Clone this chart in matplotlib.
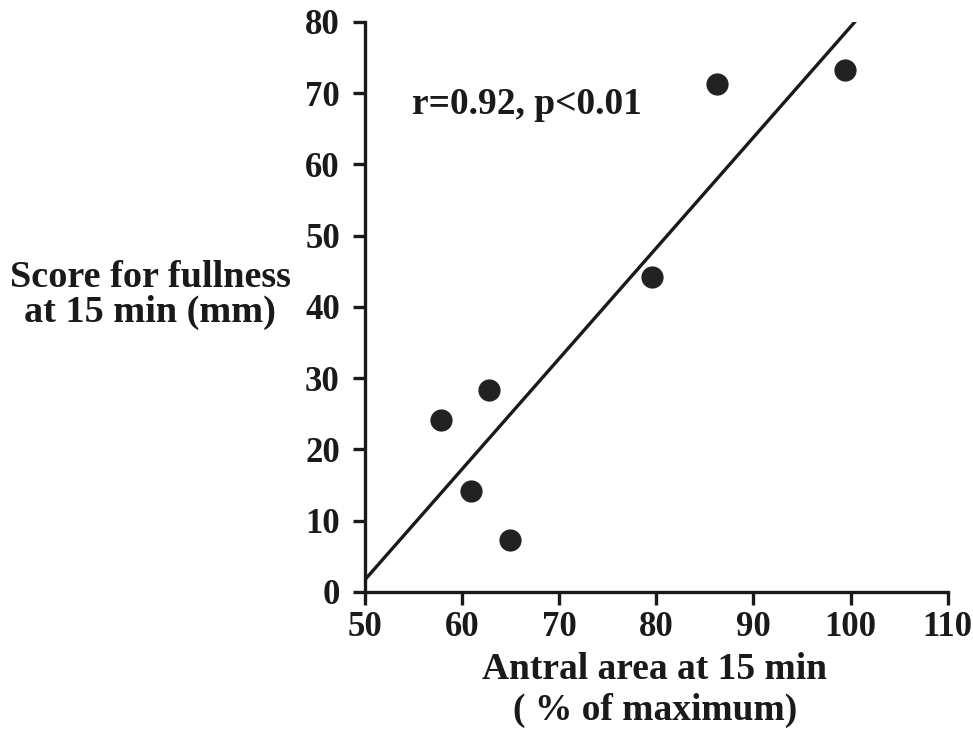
import numpy as np
import matplotlib.pyplot as plt

plt.rcParams['font.family'] = ['Liberation Serif', 'DejaVu Serif']
plt.rcParams['font.weight'] = 'bold'

# data
antral_area = [57.8, 62.8, 60.9, 64.9, 79.6, 86.3, 99.4]
fullness = [24.1, 28.3, 14.1, 7.3, 44.2, 71.3, 73.3]
fit_x = [50.0, 100.7]
fit_y = [1.7, 80.4]
x_ticks = [50, 60, 70, 80, 90, 100, 110]
y_ticks = [0, 10, 20, 30, 40, 50, 60, 70, 80]


def main():
    fig = plt.figure(figsize=(9.73, 7.29), dpi=100)
    ax = fig.add_axes([0.375, 0.188, 0.599, 0.782])

    ax.plot(fit_x, fit_y, color='#1a1a1a', lw=2.4, solid_capstyle='round')
    ax.plot(antral_area, fullness, 'o', color='#222222', markersize=16,
            markeredgewidth=0, clip_on=False)

    ax.set_xlim(50, 110)
    ax.set_ylim(0, 80)
    ax.set_xticks(x_ticks)
    ax.set_yticks(y_ticks)
    ax.tick_params(direction='out', length=9, width=2.4, labelsize=25,
                   colors='#1a1a1a')
    ax.tick_params(axis='x', pad=5)
    ax.tick_params(axis='y', pad=9)
    for s in ['top', 'right']:
        ax.spines[s].set_visible(False)
    for s in ['left', 'bottom']:
        ax.spines[s].set_linewidth(2.4)
        ax.spines[s].set_color('#1a1a1a')

    ax.text(54.9, 68.4, 'r=0.92, p<0.01', fontsize=27, fontweight='bold',
            va='center', ha='left', color='#1a1a1a')

    fig.text(150 / 973, 1 - 295 / 729, 'Score for fullness\nat 15 min (mm)',
             fontsize=27.5, fontweight='bold', ha='center', va='center',
             linespacing=1.0, color='#1a1a1a')
    fig.text(655 / 973, 1 - 690 / 729, 'Antral area at 15 min\n( % of maximum)',
             fontsize=27, fontweight='bold', ha='center', va='center',
             linespacing=1.2, color='#1a1a1a')

    fig.savefig('out.png', dpi=100)
    plt.close(fig)


if __name__ == '__main__':
    main()
